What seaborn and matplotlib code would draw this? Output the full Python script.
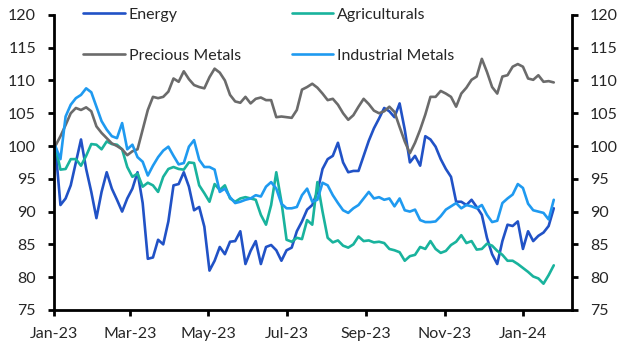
import pandas as pd
import matplotlib.pyplot as plt
import matplotlib.dates as mdates
import seaborn as sns

# --- data (index, Jan-23 = 100), one point every 4 days ---
dates = pd.date_range("2023-01-02", periods=98, freq="4D")

energy = [100, 91, 92, 94, 97.5, 101, 96.5, 93, 89, 93,
          96, 93.5, 91.8, 90, 92, 93.5, 96, 91.3, 82.8, 83,
          85.7, 85, 88.5, 94, 94.2, 96, 93.8, 90.2, 90.7, 87.7,
          81, 82.5, 84.6, 83.5, 85.4, 85.5, 87, 82, 84, 85.5,
          82, 84.6, 84.9, 84.1, 82.5, 84.1, 84.5, 87, 88.5, 90.3,
          91, 93, 96.5, 98, 98.5, 100.5, 97.5, 96, 96.2, 96.2,
          98.5, 100.8, 102.7, 104.2, 105.8, 105.3, 104.4, 106.5, 102.5, 97.5,
          98.5, 97, 101.5, 101, 99.9, 98, 96.5, 95.3, 91.5, 91.5,
          91, 91.8, 90.7, 89.5, 86, 83.5, 82, 85.5, 88, 87.8,
          88.5, 84.3, 87, 85.5, 86.3, 86.8, 87.8, 90.5]

agriculturals = [100, 96.4, 96.5, 98, 98, 97, 98.5, 100.3, 100.2, 99.5,
                 100.7, 100.3, 100.2, 99.5, 96.8, 95.3, 95.8, 93.8, 94.4, 94,
                 93, 95.3, 96.5, 96.8, 96.5, 96.4, 97.5, 97.4, 94, 92.8,
                 91.5, 94.2, 93.3, 94, 92, 91.5, 92, 92.2, 92, 91.8,
                 89.5, 88, 91, 96, 91.5, 85.7, 85.4, 86, 85.8, 88.7,
                 88, 94.5, 90, 86, 85.3, 85.6, 84.8, 84.5, 85, 86.2,
                 85.5, 85.6, 85.3, 85.4, 85.2, 84.3, 84.1, 83.8, 82.5, 83.2,
                 83.4, 84.6, 84.3, 85.5, 84.3, 83.7, 84, 84.9, 85.4, 86.4,
                 85.2, 85.5, 84.2, 84.3, 85.1, 84.8, 84, 83.4, 82.5, 82.5,
                 82, 81.4, 80.8, 80.1, 79.8, 79, 80.3, 81.8]

precious = [100, 101.5, 103.2, 105, 105.8, 105.5, 105.9, 105.3, 103, 102,
            101.2, 100.4, 100, 99.5, 98.6, 99.2, 99.5, 102.5, 105.5, 107.5,
            107.3, 107.5, 108.3, 110.3, 109.8, 111.4, 110.2, 109.3, 109, 108.8,
            110.5, 111.8, 111.2, 110, 107.8, 106.8, 106.6, 107.5, 106.5, 107.2,
            107.4, 107, 107, 104.4, 104.5, 104.4, 104.3, 105.5, 108.6, 109,
            109.5, 108.9, 108, 107, 107.2, 106.3, 105, 104, 104.7, 106,
            107.2, 106.4, 105.4, 105, 105.3, 106, 105.2, 102.9, 100.7, 98.9,
            100.5, 102.5, 104.8, 107.5, 107.5, 108.4, 108, 107.5, 106, 108,
            108.9, 110.1, 110.6, 113.3, 111.3, 109, 108, 110.6, 110.8, 112.1,
            112.5, 112.1, 110.3, 110.1, 110.8, 109.8, 109.9, 109.7]

industrial = [100, 98, 104.5, 106.3, 107.3, 107.8, 108.8, 108.2, 106, 103.8,
              102.5, 101.5, 101.2, 103.5, 99.5, 100.2, 98.3, 97.6, 95.5, 97,
              98.3, 99.3, 99.9, 98.5, 97.2, 97.4, 99.9, 100.9, 97.9, 96.8,
              96.8, 96.4, 93, 93.5, 92.2, 91.3, 91.5, 91.8, 92, 92.5,
              92.3, 93.8, 94.5, 93.5, 91.2, 90.5, 90.5, 90.7, 92.5, 93.5,
              91.5, 91.8, 94.4, 94, 92.5, 91.3, 90.2, 89.8, 90.5, 91,
              92, 93, 92, 92.2, 91.8, 92, 90.8, 92, 90.2, 90,
              90.3, 88.7, 88.4, 88.4, 88.5, 89.3, 90.3, 90.8, 91.3, 90.5,
              91, 90.8, 90.5, 91, 89.5, 88.4, 88.6, 91.3, 92, 92.6,
              94.2, 93.6, 91.2, 90.2, 90, 89.8, 88.8, 91.8]

series_names = ["Energy", "Agriculturals", "Precious Metals", "Industrial Metals"]
colors = {"Energy": "#2152c6", "Agriculturals": "#19b39d",
          "Precious Metals": "#6b6b6b", "Industrial Metals": "#1f9af0"}
y_ticks = [75, 80, 85, 90, 95, 100, 105, 110, 115, 120]

df = pd.DataFrame({"date": dates, "Energy": energy, "Agriculturals": agriculturals,
                   "Precious Metals": precious, "Industrial Metals": industrial})
long_df = df.melt(id_vars="date", var_name="series", value_name="index")

sns.set_theme(style="white")
plt.rcParams["font.family"] = ["Lato", "DejaVu Sans"]

fig, ax = plt.subplots(figsize=(6.29, 3.55), dpi=100)
fig.subplots_adjust(left=0.0859, right=0.909, bottom=0.127, top=0.958)

sns.lineplot(data=long_df, x="date", y="index", hue="series", hue_order=series_names,
             palette=colors, linewidth=1.9, ax=ax)

# axes styling
ax.set_ylim(75, 120)
ax.set_yticks(y_ticks)
ax.set_xlim(pd.Timestamp("2023-01-01"), pd.Timestamp("2024-02-08"))
ax.xaxis.set_major_locator(mdates.MonthLocator(bymonth=[1, 3, 5, 7, 9, 11]))
ax.xaxis.set_major_formatter(mdates.DateFormatter("%b-%y"))
ax.set_xlabel("")
ax.set_ylabel("")

for side in ["left", "right", "bottom"]:
    ax.spines[side].set_color("black")
    ax.spines[side].set_linewidth(2)
ax.spines["top"].set_visible(False)

ax.tick_params(axis="y", which="major", left=True, right=True, labelleft=True, labelright=True,
               direction="out", length=4, width=2, color="black", pad=9, labelsize=11.5)
ax.tick_params(axis="x", which="major", bottom=True, direction="out", length=4, width=2,
               color="black", pad=8, labelsize=11.5)

# legend: two columns, no frame, above the lines
handles, labels = ax.get_legend_handles_labels()
lookup = dict(zip(labels, handles))
legend_order = ["Energy", "Precious Metals", "Agriculturals", "Industrial Metals"]
ax.legend([lookup[n] for n in legend_order], legend_order, ncol=2, frameon=False,
          loc="upper left", bbox_to_anchor=(0.132, 0.978), bbox_transform=fig.transFigure,
          borderpad=0, borderaxespad=0, handlelength=2.6, handletextpad=0.25,
          columnspacing=3.2, labelspacing=1.65, fontsize=11.5)

plt.savefig("out.png", dpi=100)
